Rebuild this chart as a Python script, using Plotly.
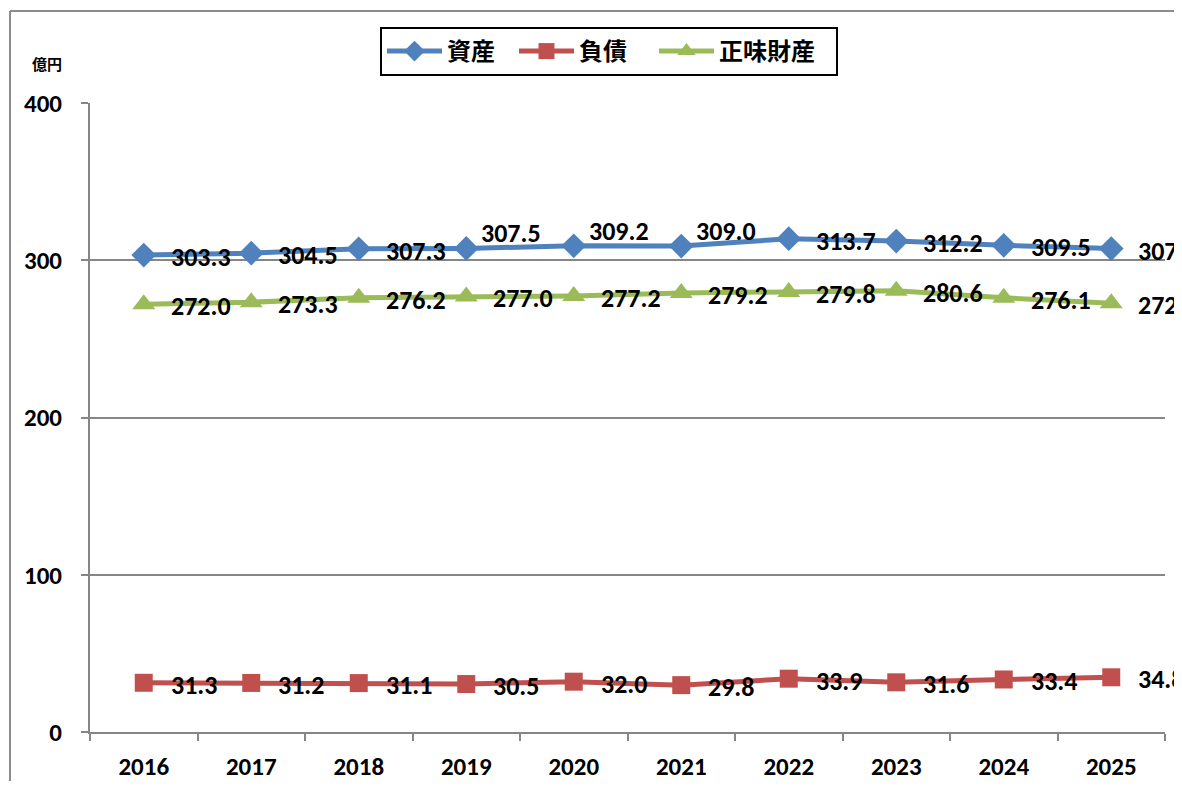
import plotly.graph_objects as go

years = ["2016", "2017", "2018", "2019", "2020", "2021", "2022", "2023", "2024", "2025"]
assets = [303.3, 304.5, 307.3, 307.5, 309.2, 309.0, 313.7, 312.2, 309.5, 307.4]
liabilities = [31.3, 31.2, 31.1, 30.5, 32.0, 29.8, 33.9, 31.6, 33.4, 34.8]
net_assets = [272.0, 273.3, 276.2, 277.0, 277.2, 279.2, 279.8, 280.6, 276.1, 272.6]

series_names = ["資産", "負債", "正味財産"]
y_ticks = [0, 100, 200, 300, 400]

# label placement: indices of asset labels drawn above-right of the point
asset_above_idx = [3, 4, 5]

colors = {"資産": "#4F81BD", "負債": "#C0504D", "正味財産": "#9BBB59"}
symbols = {"資産": "diamond", "負債": "square", "正味財産": "triangle-up"}
msizes = {"資産": 19, "負債": 18, "正味財産": 20}
legend_widths = {"資産": 62, "負債": 70, "正味財産": 112}

LAT = "Carlito, Calibri, Liberation Sans, Arial"
LABEL_FONT = dict(family=LAT, size=26, color="black", weight="bold")
CJK = "Noto Sans CJK JP"

# figure is offset by the page's 8px body margin
W, H = 1166, 773
L, T = 82, 95
PW, PH = 1075, 629

fig = go.Figure()
annotations = []
for name, vals in zip(series_names, [assets, liabilities, net_assets]):
    fig.add_trace(go.Scatter(
        x=years, y=vals, name=name, mode="lines+markers",
        line=dict(color=colors[name], width=5),
        marker=dict(symbol=symbols[name], size=msizes[name], color=colors[name],
                    line=dict(width=0)),
        legendwidth=legend_widths[name],
    ))
    for i, v in enumerate(vals):
        above = (name == "資産" and i in asset_above_idx)
        annotations.append(dict(
            x=i, y=v, xref="x", yref="y", text=f"{v:.1f}",
            showarrow=False, xanchor="left", yanchor="middle",
            xshift=13 if above else 25, yshift=15 if above else -2,
            font=LABEL_FONT,
        ))

annotations.append(dict(
    x=(39 - L) / PW, y=(T + PH - 55) / PH, xref="paper", yref="paper",
    text="億円", showarrow=False, xanchor="center", yanchor="middle",
    font=dict(family=CJK, size=15, color="black", weight="bold"),
))

border = dict(color="#8C8C8C", width=2)
fig.update_layout(
    width=W, height=H,
    margin=dict(l=L, r=W - L - PW, t=T, b=H - T - PH, autoexpand=False),
    paper_bgcolor="white", plot_bgcolor="white",
    showlegend=True,
    legend=dict(
        orientation="h", x=(601 - L) / PW, xanchor="center",
        y=(T + PH - 19) / PH, yanchor="top",
        bgcolor="white", bordercolor="black", borderwidth=2,
        font=dict(family=CJK, size=24, color="black", weight="bold"),
        itemsizing="trace", itemwidth=55,
    ),
    annotations=annotations,
    shapes=[
        dict(type="line", xref="paper", yref="paper",
             x0=(2 - L) / PW, x1=(2 - L) / PW, y0=-0.2, y1=(T + PH - 3) / PH,
             line=border, layer="below"),
        dict(type="line", xref="paper", yref="paper",
             x0=(2 - L) / PW, x1=1.2, y0=(T + PH - 3) / PH, y1=(T + PH - 3) / PH,
             line=border, layer="below"),
    ],
)

fig.update_xaxes(
    type="category", range=[-0.5, len(years) - 0.5], autorange=False,
    tickson="boundaries", ticks="outside", ticklen=7,
    tickcolor="#868686", tickwidth=2, tickangle=0, automargin=False,
    showline=True, linecolor="#868686", linewidth=2,
    showgrid=False, ticklabelstandoff=11,
    tickfont=dict(family=LAT, size=25, color="black", weight="bold"),
)
fig.update_yaxes(
    range=[0, 400], autorange=False, tickvals=y_ticks, ticks="outside", ticklen=7,
    tickcolor="#868686", tickwidth=2, automargin=False,
    showline=True, linecolor="#868686", linewidth=2,
    showgrid=True, gridcolor="#868686", gridwidth=2, zeroline=False,
    ticklabelstandoff=14,
    tickfont=dict(family=LAT, size=25, color="black", weight="bold"),
)

fig.write_html("out.html")
